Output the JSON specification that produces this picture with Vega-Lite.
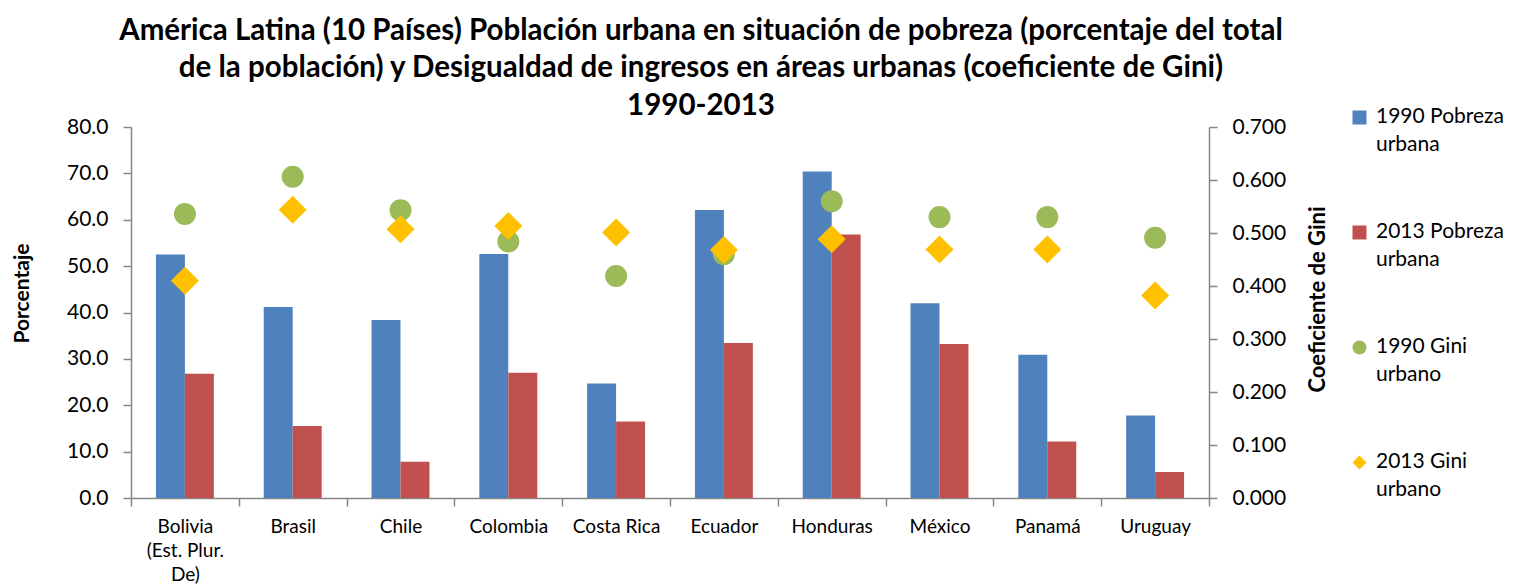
{
  "$schema": "https://vega.github.io/schema/vega-lite/v6.json",
  "width": 1078,
  "height": 371,
  "autosize": {"type": "none"},
  "padding": {"left": 131, "top": 127, "right": 312, "bottom": 88},
  "background": "white",
  "config": {
    "font": "Lato",
    "view": {"stroke": null},
    "axis": {
      "domainColor": "#868686",
      "tickColor": "#868686",
      "labelColor": "#000000",
      "titleColor": "#000000",
      "grid": false,
      "labelFont": "Lato",
      "titleFont": "Lato",
      "labelFontWeight": "normal",
      "domainWidth": 1.5,
      "tickWidth": 1.5,
      "tickSize": 8
    },
    "legend": {
      "title": null,
      "orient": "none",
      "legendX": 1218,
      "legendY": -20,
      "labelFont": "Lato",
      "labelFontSize": 21,
      "labelColor": "#000000",
      "labelLimit": 300,
      "labelBaseline": "top",
      "symbolSize": 196,
      "symbolStrokeWidth": 0,
      "rowPadding": 65,
      "labelOffset": 6
    }
  },
  "title": {
    "text": [
      "América Latina (10 Países) Población urbana en situación de pobreza (porcentaje del total",
      "de la población) y Desigualdad de ingresos en áreas urbanas (coeficiente de Gini)",
      "1990-2013"
    ],
    "font": "Lato",
    "fontSize": 29.5,
    "fontWeight": "bold",
    "lineHeight": 37.5,
    "anchor": "middle",
    "dx": 31,
    "dy": 26,
    "offset": 12,
    "color": "#000000"
  },
  "data": {
    "values": [
      {"pais": "Bolivia (Est. Plur. De)", "serie": "1990 Pobreza urbana", "valor": 52.5},
      {"pais": "Brasil", "serie": "1990 Pobreza urbana", "valor": 41.2},
      {"pais": "Chile", "serie": "1990 Pobreza urbana", "valor": 38.4},
      {"pais": "Colombia", "serie": "1990 Pobreza urbana", "valor": 52.6},
      {"pais": "Costa Rica", "serie": "1990 Pobreza urbana", "valor": 24.7},
      {"pais": "Ecuador", "serie": "1990 Pobreza urbana", "valor": 62.1},
      {"pais": "Honduras", "serie": "1990 Pobreza urbana", "valor": 70.4},
      {"pais": "México", "serie": "1990 Pobreza urbana", "valor": 42.0},
      {"pais": "Panamá", "serie": "1990 Pobreza urbana", "valor": 30.9},
      {"pais": "Uruguay", "serie": "1990 Pobreza urbana", "valor": 17.8},
      {"pais": "Bolivia (Est. Plur. De)", "serie": "2013 Pobreza urbana", "valor": 26.8},
      {"pais": "Brasil", "serie": "2013 Pobreza urbana", "valor": 15.5},
      {"pais": "Chile", "serie": "2013 Pobreza urbana", "valor": 7.8},
      {"pais": "Colombia", "serie": "2013 Pobreza urbana", "valor": 27.0},
      {"pais": "Costa Rica", "serie": "2013 Pobreza urbana", "valor": 16.5},
      {"pais": "Ecuador", "serie": "2013 Pobreza urbana", "valor": 33.4},
      {"pais": "Honduras", "serie": "2013 Pobreza urbana", "valor": 56.8},
      {"pais": "México", "serie": "2013 Pobreza urbana", "valor": 33.2},
      {"pais": "Panamá", "serie": "2013 Pobreza urbana", "valor": 12.2},
      {"pais": "Uruguay", "serie": "2013 Pobreza urbana", "valor": 5.6},
      {"pais": "Bolivia (Est. Plur. De)", "serie": "1990 Gini urbano", "valor": 0.536},
      {"pais": "Brasil", "serie": "1990 Gini urbano", "valor": 0.606},
      {"pais": "Chile", "serie": "1990 Gini urbano", "valor": 0.543},
      {"pais": "Colombia", "serie": "1990 Gini urbano", "valor": 0.484},
      {"pais": "Costa Rica", "serie": "1990 Gini urbano", "valor": 0.419},
      {"pais": "Ecuador", "serie": "1990 Gini urbano", "valor": 0.460},
      {"pais": "Honduras", "serie": "1990 Gini urbano", "valor": 0.560},
      {"pais": "México", "serie": "1990 Gini urbano", "valor": 0.530},
      {"pais": "Panamá", "serie": "1990 Gini urbano", "valor": 0.530},
      {"pais": "Uruguay", "serie": "1990 Gini urbano", "valor": 0.491},
      {"pais": "Bolivia (Est. Plur. De)", "serie": "2013 Gini urbano", "valor": 0.410},
      {"pais": "Brasil", "serie": "2013 Gini urbano", "valor": 0.544},
      {"pais": "Chile", "serie": "2013 Gini urbano", "valor": 0.507},
      {"pais": "Colombia", "serie": "2013 Gini urbano", "valor": 0.513},
      {"pais": "Costa Rica", "serie": "2013 Gini urbano", "valor": 0.501},
      {"pais": "Ecuador", "serie": "2013 Gini urbano", "valor": 0.468},
      {"pais": "Honduras", "serie": "2013 Gini urbano", "valor": 0.488},
      {"pais": "México", "serie": "2013 Gini urbano", "valor": 0.469},
      {"pais": "Panamá", "serie": "2013 Gini urbano", "valor": 0.469},
      {"pais": "Uruguay", "serie": "2013 Gini urbano", "valor": 0.382}
    ]
  },
  "encoding": {
    "x": {
      "field": "pais",
      "type": "nominal",
      "sort": null,
      "title": null,
      "scale": {"paddingInner": 0, "paddingOuter": 0},
      "axis": {
        "labelAngle": 0,
        "labelFontSize": 19,
        "labelLineHeight": 24,
        "labelPadding": 11,
        "tickBand": "extent",
        "labelExpr": "datum.label == 'Bolivia (Est. Plur. De)' ? ['Bolivia', '(Est. Plur.', 'De)'] : datum.label"
      }
    }
  },
  "layer": [
    {
      "transform": [{"filter": "indexof(datum.serie, 'Pobreza') >= 0"}],
      "mark": {"type": "bar"},
      "encoding": {
        "xOffset": {
          "field": "serie",
          "type": "nominal",
          "scale": {"domain": ["1990 Pobreza urbana", "2013 Pobreza urbana"], "paddingInner": 0, "paddingOuter": 0.86}
        },
        "y": {
          "field": "valor",
          "type": "quantitative",
          "scale": {"domain": [0, 80], "nice": false},
          "axis": {
            "title": "Porcentaje",
            "values": [0, 10, 20, 30, 40, 50, 60, 70, 80],
            "format": ".1f",
            "labelFontSize": 21,
            "labelPadding": 15,
            "titleFontSize": 21,
            "titleFontWeight": "bold",
            "titlePadding": 34,
            "titleY": 166
          }
        },
        "color": {
          "field": "serie",
          "type": "nominal",
          "scale": {
            "domain": ["1990 Pobreza urbana", "2013 Pobreza urbana", "1990 Gini urbano", "2013 Gini urbano"],
            "range": ["#4F81BD", "#C0504D", "#9BBB59", "#FFC000"]
          },
          "legend": {
            "labelExpr": "[slice(datum.label, 0, lastindexof(datum.label, ' ')), slice(datum.label, lastindexof(datum.label, ' ') + 1)]",
            "encode": {"labels": {"update": {"lineHeight": {"value": 28}, "dy": {"value": -12}}}}
          }
        }
      }
    },
    {
      "transform": [{"filter": "indexof(datum.serie, 'Gini') >= 0"}],
      "mark": {"type": "point", "filled": true, "opacity": 1},
      "encoding": {
        "y": {
          "field": "valor",
          "type": "quantitative",
          "scale": {"domain": [0, 0.7], "nice": false},
          "axis": {
            "orient": "right",
            "title": "Coeficiente de Gini",
            "values": [0, 0.1, 0.2, 0.3, 0.4, 0.5, 0.6, 0.7],
            "format": ".3f",
            "labelFontSize": 21,
            "labelPadding": 15,
            "titleFontSize": 22,
            "titleFontWeight": "bold",
            "titleAngle": 270,
            "titlePadding": 44,
            "titleY": 172
          }
        },
        "color": {
          "field": "serie",
          "type": "nominal",
          "scale": {
            "domain": ["1990 Pobreza urbana", "2013 Pobreza urbana", "1990 Gini urbano", "2013 Gini urbano"],
            "range": ["#4F81BD", "#C0504D", "#9BBB59", "#FFC000"]
          },
          "legend": {
            "labelExpr": "[slice(datum.label, 0, lastindexof(datum.label, ' ')), slice(datum.label, lastindexof(datum.label, ' ') + 1)]",
            "encode": {"labels": {"update": {"lineHeight": {"value": 28}, "dy": {"value": -12}}}}
          }
        },
        "shape": {
          "field": "serie",
          "type": "nominal",
          "scale": {
            "domain": ["1990 Pobreza urbana", "2013 Pobreza urbana", "1990 Gini urbano", "2013 Gini urbano"],
            "range": ["square", "square", "circle", "diamond"]
          },
          "legend": {
            "labelExpr": "[slice(datum.label, 0, lastindexof(datum.label, ' ')), slice(datum.label, lastindexof(datum.label, ' ') + 1)]",
            "encode": {"labels": {"update": {"lineHeight": {"value": 28}, "dy": {"value": -12}}}}
          }
        },
        "size": {
          "field": "serie",
          "type": "nominal",
          "scale": {"domain": ["1990 Gini urbano", "2013 Gini urbano"], "range": [484, 784]},
          "legend": null
        }
      }
    }
  ],
  "resolve": {"scale": {"y": "independent"}}
}
